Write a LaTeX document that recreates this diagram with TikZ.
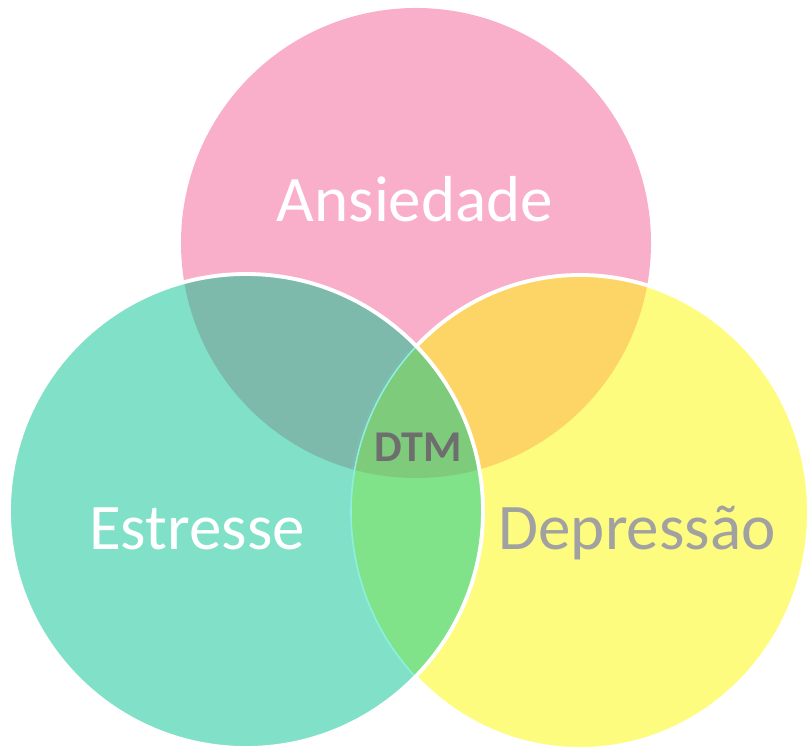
\documentclass[tikz,border=0pt]{standalone}
\usepackage{fontspec}
\setmainfont{Carlito}
\usepackage{xcolor}
\usetikzlibrary{positioning}

\definecolor{pinkset}{HTML}{F9AFC9}
\definecolor{tealset}{HTML}{80E0C8}
\definecolor{yellowset}{HTML}{FEFC7F}
\definecolor{tealpink}{HTML}{7DBAAC}
\definecolor{pinkyellow}{HTML}{FDD466}
\definecolor{tealyellow}{HTML}{80E38A}
\definecolor{allthree}{HTML}{7ECB7C}
\definecolor{seamline}{HTML}{8CF0DC}

\begin{document}
\begin{tikzpicture}[
    setlabel/.style={font=\fontsize{37}{44}\selectfont, anchor=base},
    corelabel/.style={font=\fontsize{25}{30}\selectfont\bfseries, anchor=base, text=black!57},
    rim/.style={draw=white, line width=2.2pt},
    cover/.style={line width=2.8pt}
]
\useasboundingbox (0,0) rectangle (16.2,14.96);

% Set centres
\coordinate (anx) at (8.32,10.10);
\coordinate (est) at (4.92,4.74);
\coordinate (dep) at (11.60,4.72);

% Plain circles
\fill[pinkset] (anx) circle (4.70);
\fill[yellowset] (dep) ellipse (4.58 and 4.74);
\fill[tealset] (est) circle (4.74);

% Pairwise overlaps
\begin{scope}
    \clip (anx) circle (4.70);
    \fill[tealpink] (est) circle (4.74);
    \fill[pinkyellow] (dep) ellipse (4.58 and 4.74);
\end{scope}

% White rim of the yellow set
\draw[rim] (dep) ellipse (4.58 and 4.74);

% Inside the teal set: hide the rim, refill, thin seam
\begin{scope}
    \clip (est) circle (4.74);
    \draw[cover, tealset] (dep) ellipse (4.58 and 4.74);
    \fill[tealyellow] (dep) ellipse (4.58 and 4.74);
    \begin{scope}
        \clip (anx) circle (4.70);
        \draw[cover, tealpink] (dep) ellipse (4.58 and 4.74);
        \fill[allthree] (dep) ellipse (4.58 and 4.74);
    \end{scope}
    \draw[draw=seamline, line width=0.9pt] (dep) ellipse (4.58 and 4.74);
\end{scope}

% White rim of the teal set
\draw[rim] (est) circle (4.74);

% Labels
\node[setlabel, text=white] (ansiedade) at (8.30,10.52) {Ansiedade};
\node[setlabel, text=white] (estresse) at (3.94,3.96) {Estresse};
\node[setlabel, text=black!37] (depressao) at (12.74,3.96) {Depressão};
\node[corelabel] (dtm) at (8.36,5.72) {DTM};

\end{tikzpicture}
\end{document}
